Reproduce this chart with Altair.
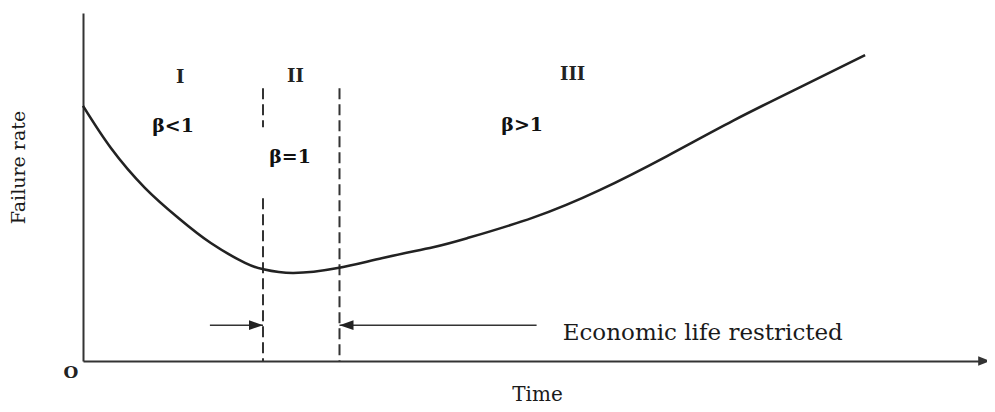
import altair as alt
import pandas as pd

# ---- values (arbitrary units, 0..10 on both axes) ----
curve_t = [0.0, 0.31, 0.69, 1.06, 1.42, 1.80, 2.00, 2.33, 2.83, 3.33, 3.89,
           4.27, 5.00, 5.74, 6.49, 7.22, 7.97, 8.69]
curve_r = [7.33, 6.12, 4.97, 4.11, 3.39, 2.82, 2.64, 2.53, 2.67, 2.96, 3.27,
           3.53, 4.12, 4.91, 5.89, 6.90, 7.87, 8.79]

boundary_t = [2.0, 2.0, 2.85]
boundary_top = [7.84, 4.68, 7.84]
boundary_bottom = [6.72, 0.0, 0.0]

region_labels = ["I", "II", "III"]
region_t = [1.08, 2.36, 5.44]
region_r = [8.13, 8.16, 8.22]

beta_labels = ["β<1", "β=1", "β>1"]
beta_t = [1.0, 2.3, 4.88]
beta_r = [6.75, 5.86, 6.78]

arrow_from = [1.41, 5.04]
arrow_to = [2.0, 2.85]
arrow_level = [1.03, 1.03]
arrow_dir = ["M0,0L-1,-0.35L-1,0.35Z", "M0,0L1,-0.35L1,0.35Z"]

note_text = ["Economic life restricted"]
note_t = [5.33]
note_r = [0.60]

axis_end_t = [10.08]
axis_end_r = [0.0]
origin_label = ["O"]

# ---- tables ----
curve = pd.DataFrame({"t": curve_t, "r": curve_r})
bounds = pd.DataFrame({"t": boundary_t, "r": boundary_top, "r2": boundary_bottom})
regions = pd.DataFrame({"t": region_t, "r": region_r, "label": region_labels})
betas = pd.DataFrame({"t": beta_t, "r": beta_r, "label": beta_labels})
arrows = pd.DataFrame({"t": arrow_from, "t2": arrow_to, "r": arrow_level, "head": arrow_dir})
note = pd.DataFrame({"t": note_t, "r": note_r, "label": note_text})
axis_end = pd.DataFrame({"t": axis_end_t, "r": axis_end_r})
origin = pd.DataFrame({"t": [0.0], "r": [0.0], "label": origin_label})

INK = "#222222"
SERIF = "DejaVu Serif"

xscale = alt.Scale(domain=[0, 10], nice=False, zero=False)
yscale = alt.Scale(domain=[0, 10], nice=False, zero=False)

xaxis = alt.Axis(domain=True, domainColor="#333333", domainWidth=2, ticks=False,
                 labels=False, grid=False, title="Time", titleFont=SERIF,
                 titleFontSize=20, titleFontWeight="normal", titleColor="#1a1a1a",
                 titleX=454, titleY=39, titleAlign="center", titleBaseline="alphabetic")
yaxis = alt.Axis(domain=True, domainColor="#333333", domainWidth=2, ticks=False,
                 labels=False, grid=False, title="Failure rate", titleFont=SERIF,
                 titleFontSize=19, titleFontWeight="normal", titleColor="#1a1a1a",
                 titleAngle=270, titleX=-65, titleY=154, titleAlign="center",
                 titleBaseline="middle")


def X(field="t"):
    return alt.X(f"{field}:Q", scale=xscale, axis=xaxis)


def Y(field="r"):
    return alt.Y(f"{field}:Q", scale=yscale, axis=yaxis)


line = alt.Chart(curve).mark_line(interpolate="natural", strokeWidth=2.6,
                                  color=INK).encode(x=X(), y=Y())

dashed = alt.Chart(bounds).mark_rule(strokeDash=[11, 5], strokeWidth=2,
                                     color="#333333").encode(
    x=X(), y=Y(), y2="r2:Q")

shafts = alt.Chart(arrows).mark_rule(strokeWidth=1.5, color="#333333").encode(
    x=X(), x2="t2:Q", y=Y())

heads = alt.Chart(arrows).mark_point(filled=True, size=784, color=INK, opacity=1).encode(
    x=X("t2"), y=Y(), shape=alt.Shape("head:N", scale=None, legend=None))

axis_head = alt.Chart(axis_end).mark_point(
    filled=True, size=576, color="#333333", opacity=1,
    shape="M0,0L-1,-0.4L-1,0.4Z").encode(x=X(), y=Y())

region_text = alt.Chart(regions).mark_text(font=SERIF, fontSize=18, fontWeight="bold",
                                           color=INK, align="center",
                                           baseline="middle").encode(
    x=X(), y=Y(), text="label:N")

beta_text = alt.Chart(betas).mark_text(font=SERIF, fontSize=19, fontWeight="bold",
                                       color="#111111", align="center",
                                       baseline="middle").encode(
    x=X(), y=Y(), text="label:N")

note_mark = alt.Chart(note).mark_text(font=SERIF, fontSize=23, color="#1a1a1a",
                                      align="left", baseline="alphabetic").encode(
    x=X(), y=Y(), text="label:N")

origin_mark = alt.Chart(origin).mark_text(font=SERIF, fontSize=17, fontWeight="bold",
                                          color=INK, align="center", baseline="middle",
                                          dx=-12, dy=12).encode(
    x=X(), y=Y(), text="label:N")

chart = alt.layer(
    dashed, shafts, heads, line, axis_head, region_text, beta_text, note_mark, origin_mark
).properties(
    width=900, height=348,
    autosize=alt.AutoSizeParams(type="none"),
    padding={"left": 75, "top": 5, "right": 4, "bottom": 43},
    background="white",
).configure_view(stroke=None)

chart.save("out.html", embed_options={"renderer": "svg", "actions": False})
